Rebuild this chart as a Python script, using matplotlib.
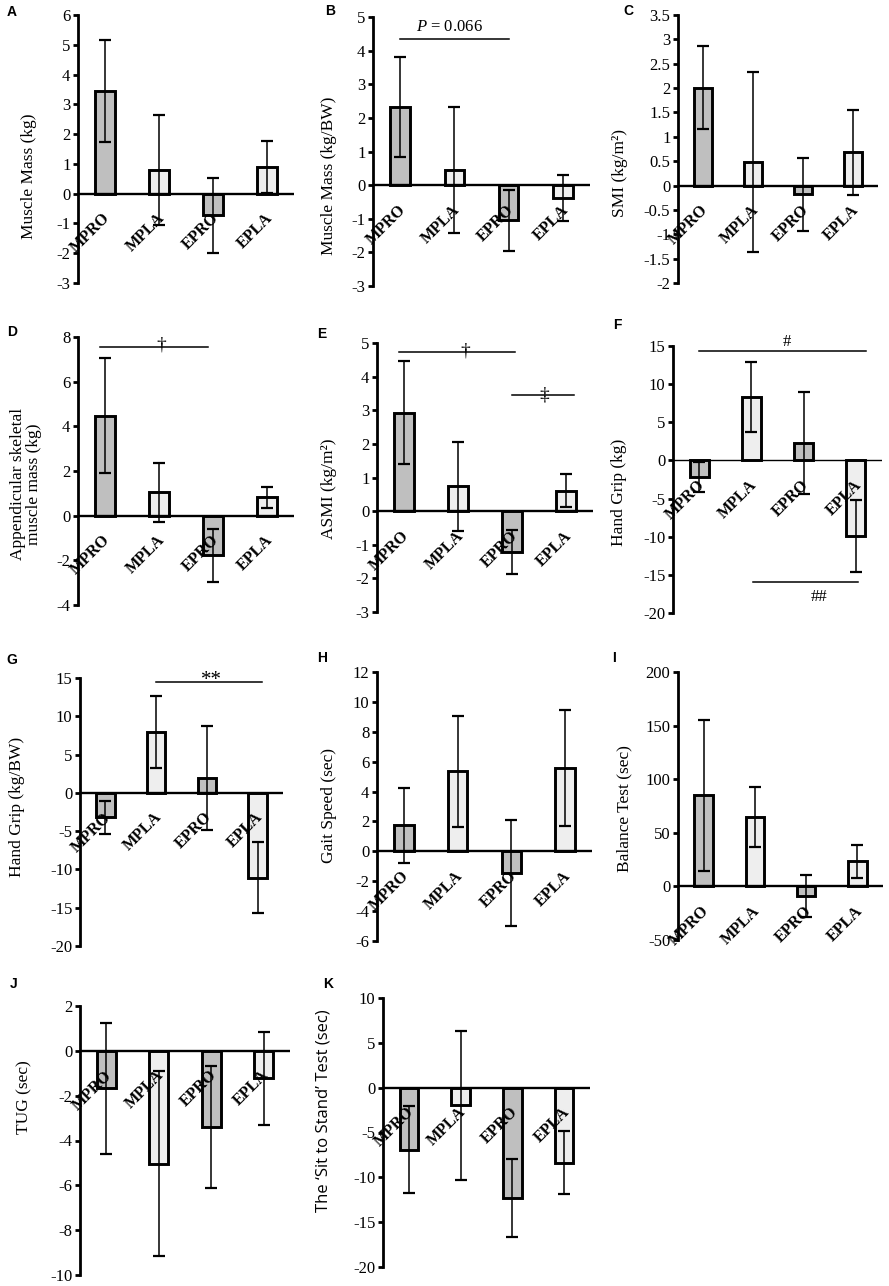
import matplotlib
matplotlib.use("Agg")
import matplotlib.pyplot as plt
import numpy as np

plt.rcParams["font.family"] = ["Liberation Serif", "DejaVu Serif"]
plt.rcParams["axes.unicode_minus"] = False
plt.rcParams["mathtext.fontset"] = "custom"
plt.rcParams["mathtext.rm"] = "Liberation Serif"
plt.rcParams["mathtext.it"] = "Liberation Serif:italic"

FIG_W, FIG_H = 889, 1286

GROUPS = ["MPRO", "MPLA", "EPRO", "EPLA"]
PRO_COLOR = "#bfbfbf"
PLA_COLOR = "#eeeeee"

# mean change and SD per group
muscle_mass_mean = [3.45, 0.80, -0.73, 0.90]
muscle_mass_sd = [1.72, 1.85, 1.25, 0.87]
muscle_mass_bw_mean = [2.33, 0.45, -1.05, -0.38]
muscle_mass_bw_sd = [1.49, 1.86, 0.90, 0.68]
smi_mean = [2.01, 0.48, -0.18, 0.68]
smi_sd = [0.85, 1.85, 0.75, 0.87]
asm_mean = [4.47, 1.04, -1.77, 0.83]
asm_sd = [2.58, 1.33, 1.19, 0.47]
asmi_mean = [2.93, 0.74, -1.22, 0.61]
asmi_sd = [1.52, 1.32, 0.66, 0.49]
grip_mean = [-2.2, 8.3, 2.27, -9.9]
grip_sd = [1.95, 4.55, 6.7, 4.75]
grip_bw_mean = [-3.2, 7.95, 1.9, -11.1]
grip_bw_sd = [2.2, 4.7, 6.8, 4.65]
gait_mean = [1.74, 5.35, -1.45, 5.58]
gait_sd = [2.5, 3.7, 3.52, 3.86]
balance_mean = [85.0, 65.0, -9.0, 23.5]
balance_sd = [70.2, 28.0, 20.0, 15.3]
tug_mean = [-1.68, -5.03, -3.41, -1.22]
tug_sd = [2.94, 4.11, 2.73, 2.07]
sts_mean = [-6.9, -1.95, -12.3, -8.35]
sts_sd = [4.9, 8.3, 4.3, 3.5]

# letter, y label, means, sds, (ymin, ymax, step), axes box in px (left, right, top, bottom),
# y label position (px left of axis, fraction of height), letter position px
panels = [
    ("A", "Muscle Mass (kg)", muscle_mass_mean, muscle_mass_sd, (-3, 6, 1),
     (78, 294, 15, 283), (41, 0.40), (12, 12)),
    ("B", "Muscle Mass (kg/BW)", muscle_mass_bw_mean, muscle_mass_bw_sd, (-3, 5, 1),
     (373, 590, 17, 286), (36, 0.41), (330, 11)),
    ("C", "SMI (kg/m\u00b2)", smi_mean, smi_sd, (-2, 3.5, 0.5),
     (678, 878, 15, 283), (50, 0.41), (628, 11)),
    ("D", "Appendicular skeletal\nmuscle mass (kg)", asm_mean, asm_sd, (-4, 8, 2),
     (78, 294, 337, 605), (36, 0.45), (12, 332)),
    ("E", "ASMI (kg/m\u00b2)", asmi_mean, asmi_sd, (-3, 5, 1),
     (377, 593, 343, 612), (40, 0.46), (322, 334)),
    ("F", "Hand Grip (kg)", grip_mean, grip_sd, (-20, 15, 5),
     (673, 882, 346, 613), (46, 0.45), (617, 325)),
    ("G", "Hand Grip (kg/BW)", grip_bw_mean, grip_bw_sd, (-20, 15, 5),
     (80, 283, 678, 946), (55, 0.52), (12, 660)),
    ("H", "Gait Speed (sec)", gait_mean, gait_sd, (-6, 12, 2),
     (377, 592, 672, 941), (40, 0.505), (322, 658)),
    ("I", "Balance Test (sec)", balance_mean, balance_sd, (-50, 200, 50),
     (678, 883, 672, 940), (46, 0.49), (614, 658)),
    ("J", "TUG (sec)", tug_mean, tug_sd, (-10, 2, 2),
     (80, 290, 1006, 1275), (48, 0.66), (14, 984)),
    ("K", "The \u2018Sit to Stand\u2019 Test (sec)", sts_mean, sts_sd, (-20, 10, 5),
     (383, 590, 998, 1267), (51, 0.58), (328, 984)),
]

# significance brackets: x0, x1, y, text, text x, text offset (pt), va, size
brackets = {
    "B": [(0, 2, 4.34, "$P$ = 0.066", 0.9, 3, "bottom", 12)],
    "D": [(-0.1, 1.9, 7.56, "\u2020", 1.05, -5, "bottom", 14)],
    "E": [(-0.1, 2.05, 4.72, "\u2020", 1.13, -5, "bottom", 14),
          (2.0, 3.15, 3.45, "\u2021", 2.6, -6, "bottom", 14)],
    "F": [(0.0, 3.2, 14.3, "#", 1.68, 1, "bottom", 12),
          (1.03, 3.04, -15.95, "##", 2.3, -5, "top", 12)],
    "G": [(1.0, 3.08, 14.47, "**", 2.1, -6, "bottom", 15)],
}


def px_rect(left, right, top, bottom):
    return [left / FIG_W, 1 - bottom / FIG_H, (right - left) / FIG_W, (bottom - top) / FIG_H]


fig = plt.figure(figsize=(FIG_W / 100, FIG_H / 100), dpi=100)

for letter, ylabel, means, sds, (ymin, ymax, step), box, (lab_off, lab_y), (lx, ly) in panels:
    ax = fig.add_axes(px_rect(*box))
    x = np.arange(len(GROUPS))
    colors = [PRO_COLOR, PLA_COLOR, PRO_COLOR, PLA_COLOR]
    ax.bar(x, means, width=0.36, color=colors, edgecolor="black", linewidth=2.1, zorder=2)
    ax.errorbar(x, means, yerr=sds, fmt="none", ecolor="black", elinewidth=1.1,
                capsize=4.5, capthick=1.6, zorder=4)
    zero_lw = 1.0 if letter == "F" else 1.7
    ax.axhline(0, color="black", linewidth=zero_lw, zorder=3)

    ax.set_xlim(-0.5, 3.5)
    ax.set_ylim(ymin, ymax)
    ticks = np.arange(ymin, ymax + step / 2, step)
    ax.set_yticks(ticks)
    ax.set_yticklabels([f"{t:g}" for t in ticks])
    ax.set_xticks([])
    for side in ("top", "right", "bottom"):
        ax.spines[side].set_visible(False)
    ax.spines["left"].set_linewidth(2.0)
    ax.tick_params(axis="y", direction="out", length=3.5, width=2.0, labelsize=12, pad=2)
    ax.patch.set_alpha(0)

    if letter == "K":
        ax.set_ylabel(ylabel, fontsize=12, family=["Open Sans", "DejaVu Sans"])
    else:
        ax.set_ylabel(ylabel, fontsize=12.5, linespacing=1.0)
    w_px = box[1] - box[0]
    ax.yaxis.set_label_coords(-lab_off / w_px, lab_y)

    # group names sit on top of the bars, as in the original
    for i, name in enumerate(GROUPS):
        ax.annotate(name, xy=(i, 0), xytext=(-2, -12), textcoords="offset points",
                    ha="right", va="top", rotation=45, rotation_mode="anchor",
                    fontsize=11.5, fontweight="bold", zorder=5, annotation_clip=False)

    for x0, x1, yb, txt, tx, toff, tva, tsize in brackets.get(letter, []):
        ax.plot([x0, x1], [yb, yb], color="black", linewidth=1.1, clip_on=False, zorder=3)
        ax.annotate(txt, xy=(tx, yb), xytext=(0, toff), textcoords="offset points",
                    ha="center", va=tva, fontsize=tsize, annotation_clip=False)

    fig.text(lx / FIG_W, 1 - ly / FIG_H, letter, ha="center", va="center",
             fontsize=10, fontweight="bold", family=["Liberation Sans", "DejaVu Sans"])

fig.savefig("out.png", dpi=100, facecolor="white")
